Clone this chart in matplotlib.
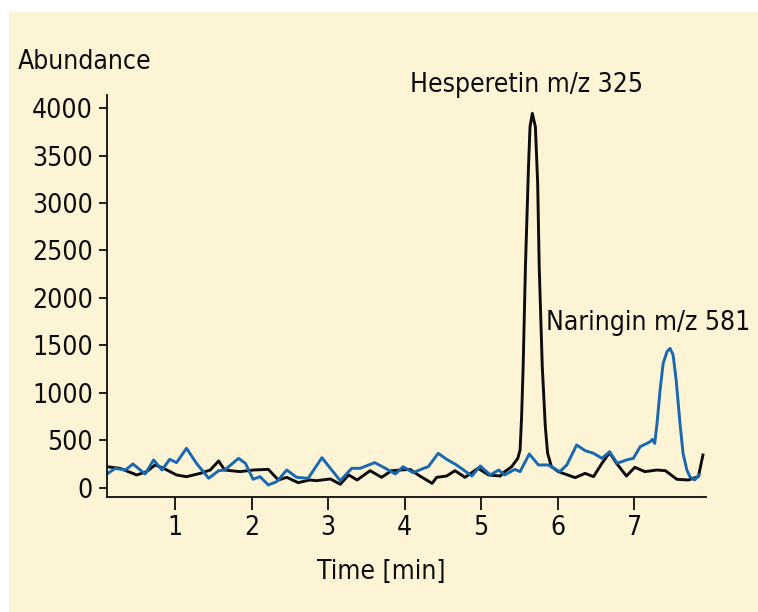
import numpy as np
import matplotlib
matplotlib.use('Agg')
import matplotlib.pyplot as plt
from matplotlib.patches import Rectangle

# hesperetin trace (black), time in min / abundance
hesp_t = [0.11, 0.28, 0.50, 0.63, 0.74, 0.85, 1.02, 1.15, 1.33, 1.46, 1.57, 1.65,
          1.85, 2.02, 2.22, 2.35, 2.46, 2.61, 2.76, 2.85, 3.03, 3.16, 3.27, 3.38,
          3.55, 3.70, 3.83, 4.07, 4.20, 4.36, 4.42, 4.55, 4.66, 4.79, 4.96, 5.10,
          5.25, 5.31, 5.40, 5.48, 5.51, 5.53, 5.55, 5.58, 5.62, 5.64, 5.67, 5.71,
          5.74, 5.76, 5.80, 5.84, 5.87, 5.92, 6.01, 6.23, 6.36, 6.47, 6.58, 6.68,
          6.77, 6.90, 7.01, 7.14, 7.30, 7.41, 7.56, 7.71, 7.84, 7.90]
hesp_v = [224, 207, 137, 172, 242, 207, 137, 119, 154, 189, 284, 189,
          172, 189, 196, 84, 112, 56, 84, 77, 95, 39, 137, 84,
          182, 112, 182, 196, 126, 49, 112, 126, 182, 112, 207, 137,
          126, 172, 224, 312, 400, 750, 1277, 2330, 3382, 3803, 3944, 3803,
          3207, 2330, 1277, 645, 365, 224, 172, 109, 154, 119, 260, 372,
          260, 126, 218, 172, 189, 182, 91, 84, 119, 347]

# naringin trace (blue)
nar_t = [0.11, 0.22, 0.35, 0.45, 0.61, 0.72, 0.83, 0.93, 1.02, 1.15, 1.28, 1.44,
         1.57, 1.65, 1.83, 1.92, 2.02, 2.11, 2.22, 2.33, 2.46, 2.59, 2.74, 2.92,
         3.03, 3.16, 3.31, 3.42, 3.61, 3.75, 3.88, 3.98, 4.11, 4.25, 4.31, 4.44,
         4.55, 4.68, 4.88, 4.99, 5.12, 5.23, 5.31, 5.44, 5.51, 5.63, 5.75, 5.88,
         6.03, 6.12, 6.25, 6.36, 6.47, 6.58, 6.68, 6.78, 6.90, 6.99, 7.08, 7.17,
         7.21, 7.24, 7.27, 7.30, 7.34, 7.38, 7.43, 7.47, 7.51, 7.55, 7.60, 7.64,
         7.69, 7.73, 7.79, 7.85]
nar_v = [147, 207, 189, 253, 147, 295, 189, 302, 267, 418, 260, 102,
         182, 189, 312, 260, 91, 119, 32, 67, 189, 112, 102, 319,
         207, 77, 207, 207, 267, 207, 147, 224, 161, 207, 224, 365,
         302, 242, 126, 232, 137, 189, 137, 196, 172, 358, 242, 242,
         172, 242, 453, 393, 365, 312, 382, 260, 295, 312, 435, 470,
         487, 512, 470, 681, 1032, 1312, 1435, 1470, 1400, 1137, 681, 365,
         189, 119, 84, 137]

yticks = [0, 500, 1000, 1500, 2000, 2500, 3000, 3500, 4000]
xticks = [1, 2, 3, 4, 5, 6, 7]

plt.rcParams['font.family'] = ['DejaVu Sans']
plt.rcParams['font.stretch'] = 'condensed'
ink = '#0d0d0d'
cream = '#FDF4D6'

fig = plt.figure(figsize=(7.58, 6.12), dpi=100)
fig.patch.set_facecolor('white')
fig.patches.append(Rectangle((9 / 758, 0), 1, 1 - 12 / 612, transform=fig.transFigure,
                             facecolor=cream, edgecolor='none', zorder=-10))

ax = fig.add_axes([107 / 758, 1 - 497 / 612, 599 / 758, 402 / 612])
ax.set_facecolor('none')
ax.plot(hesp_t, hesp_v, color=ink, lw=2.1, solid_joinstyle='round')
ax.plot(nar_t, nar_v, color='#1868b2', lw=2.1, solid_joinstyle='round')

ax.set_xlim(0.111, 7.94)
ax.set_ylim(-95, 4137)
ax.set_xticks(xticks)
ax.set_yticks(yticks)
for s in ['top', 'right']:
    ax.spines[s].set_visible(False)
for s in ['left', 'bottom']:
    ax.spines[s].set_linewidth(1.3)
    ax.spines[s].set_color(ink)
ax.tick_params(axis='y', length=6, width=1.3, colors=ink, labelsize=19, pad=4)
ax.tick_params(axis='x', length=9, width=1.3, colors=ink, labelsize=19, pad=4)

fs = 19
fig.text(18 / 758, 1 - 62 / 612, 'Abundance', fontsize=fs, color=ink, va='center', ha='left')
fig.text(526 / 758, 1 - 85 / 612, 'Hesperetin m/z 325', fontsize=fs, color=ink, va='center', ha='center')
fig.text(546 / 758, 1 - 323 / 612, 'Naringin m/z 581', fontsize=fs, color=ink, va='center', ha='left')
fig.text(381 / 758, 1 - 572 / 612, 'Time [min]', fontsize=fs, color=ink, va='center', ha='center')

fig.savefig('out.png', dpi=100, facecolor='white')
